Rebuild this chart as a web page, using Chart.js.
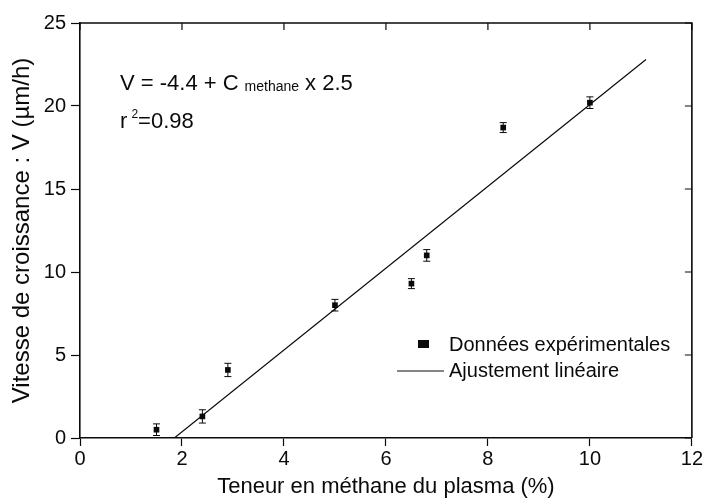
<!DOCTYPE html>
<html>
<head>
<meta charset="utf-8">
<script src="https://cdn.jsdelivr.net/npm/chart.js"></script>
<style>
  html, body { margin: 0; padding: 0; background: #fff; }
  #wrap { width: 704px; height: 501px; }
</style>
</head>
<body>
<div id="wrap"><canvas id="chart" width="704" height="501"></canvas></div>
<script>
  // données
  const methane   = [1.5, 2.4, 2.9, 5.0, 6.5, 6.8, 8.3, 10.0];
  const growth    = [0.5, 1.3, 4.1, 8.0, 9.3, 11.0, 18.7, 20.2];
  const growthErr = [0.35, 0.4, 0.4, 0.35, 0.3, 0.35, 0.3, 0.35];
  const fitX = [1.85, 11.1];
  const fitY = [0, 22.8];
  const xTicks = [0, 2, 4, 6, 8, 10, 12];
  const yTicks = [0, 5, 10, 15, 20, 25];

  const FONT = '"Liberation Sans", Arial, sans-serif';
  const INK = '#0a0a0a';

  // ─── barres d'erreur + cadre + ticks intérieurs ───────────────────────────
  const framePlugin = {
    id: 'frame',
    afterDatasetsDraw(chart) {
      const { ctx, chartArea: a, scales: { x, y } } = chart;
      ctx.save();
      ctx.strokeStyle = INK;
      // error bars
      ctx.lineWidth = 1;
      const meta = chart.getDatasetMeta(0);
      meta.data.forEach((pt, i) => {
        const yt = y.getPixelForValue(growth[i] + growthErr[i]);
        const yb = y.getPixelForValue(growth[i] - growthErr[i]);
        ctx.beginPath();
        ctx.moveTo(pt.x, yt); ctx.lineTo(pt.x, yb);
        ctx.moveTo(pt.x - 3.5, yt); ctx.lineTo(pt.x + 3.5, yt);
        ctx.moveTo(pt.x - 3.5, yb); ctx.lineTo(pt.x + 3.5, yb);
        ctx.stroke();
      });
      // frame top/right with inward ticks
      ctx.lineWidth = 1.6;
      ctx.beginPath();
      ctx.moveTo(a.left, a.top); ctx.lineTo(a.right, a.top); ctx.lineTo(a.right, a.bottom);
      ctx.stroke();
      ctx.lineWidth = 1.2;
      ctx.beginPath();
      xTicks.forEach(v => {
        const px = x.getPixelForValue(v);
        ctx.moveTo(px, a.top); ctx.lineTo(px, a.top + 7);
      });
      yTicks.forEach(v => {
        const py = y.getPixelForValue(v);
        ctx.moveTo(a.right, py); ctx.lineTo(a.right - 7, py);
      });
      ctx.stroke();
      ctx.restore();
    },
    afterDraw(chart) {
      const { ctx, chartArea: a } = chart;
      ctx.save();
      ctx.fillStyle = INK;
      ctx.strokeStyle = INK;
      ctx.textBaseline = 'alphabetic';
      ctx.textAlign = 'left';
      // équation
      let tx = a.left + 40;
      const by = 90;
      ctx.font = '22px ' + FONT;
      let s = 'V = -4.4 + C';
      ctx.fillText(s, tx, by); tx += ctx.measureText(s).width + 6;
      ctx.font = '14px ' + FONT;
      s = 'methane';
      ctx.fillText(s, tx, by + 1); tx += ctx.measureText(s).width + 6;
      ctx.font = '22px ' + FONT;
      ctx.fillText('x 2.5', tx, by);
      // r²
      tx = a.left + 40;
      const by2 = 128;
      s = 'r ';
      ctx.fillText(s, tx, by2); tx += ctx.measureText(s).width - 2;
      ctx.font = '12px ' + FONT;
      ctx.fillText('2', tx, by2 - 10); tx += ctx.measureText('2').width;
      ctx.font = '22px ' + FONT;
      ctx.fillText('=0.98', tx, by2);
      // légende
      const lx = 449;
      ctx.font = '20px ' + FONT;
      ctx.textBaseline = 'middle';
      ctx.fillRect(418, 340, 11, 8);
      ctx.fillText('Données expérimentales', lx, 345);
      ctx.lineWidth = 1;
      ctx.beginPath();
      ctx.moveTo(397, 371); ctx.lineTo(444, 371);
      ctx.stroke();
      ctx.fillText('Ajustement linéaire', lx, 371);
      ctx.restore();
    }
  };

  new Chart(document.getElementById('chart'), {
    type: 'scatter',
    data: {
      datasets: [
        {
          label: 'Données expérimentales',
          data: methane.map((m, i) => ({ x: m, y: growth[i] })),
          pointStyle: 'rect',
          pointRadius: 4,
          backgroundColor: INK,
          borderColor: INK,
          borderWidth: 0,
        },
        {
          label: 'Ajustement linéaire',
          type: 'line',
          data: fitX.map((v, i) => ({ x: v, y: fitY[i] })),
          borderColor: INK,
          borderWidth: 1.2,
          pointRadius: 0,
          fill: false,
        },
      ],
    },
    options: {
      responsive: false,
      animation: false,
      layout: { padding: { top: 23, right: 12, left: 0, bottom: 0 } },
      plugins: { legend: { display: false }, tooltip: { enabled: false } },
      scales: {
        x: {
          type: 'linear', min: 0, max: 12,
          afterBuildTicks: s => { s.ticks = xTicks.map(v => ({ value: v })); },
          afterFit: s => { s.height = 63; },
          grid: { drawOnChartArea: false, tickLength: 8, tickWidth: 1.2, color: INK },
          border: { display: true, color: INK, width: 1.6 },
          ticks: { color: INK, font: { family: FONT, size: 20 }, padding: 1, maxRotation: 0 },
          title: { display: true, text: 'Teneur en méthane du plasma (%)', color: INK,
                   font: { family: FONT, size: 22 }, padding: { top: 0, bottom: 1 } },
        },
        y: {
          type: 'linear', min: 0, max: 25,
          afterBuildTicks: s => { s.ticks = yTicks.map(v => ({ value: v })); },
          afterFit: s => { s.width = 80; },
          grid: { drawOnChartArea: false, tickLength: 9, tickWidth: 1.2, color: INK },
          border: { display: true, color: INK, width: 1.6 },
          ticks: { color: INK, font: { family: FONT, size: 20 }, padding: 5 },
          title: { display: true, text: 'Vitesse de croissance : V (µm/h)', color: INK,
                   font: { family: FONT, size: 24 }, padding: { top: 8, bottom: 0 } },
        },
      },
    },
    plugins: [framePlugin],
  });
</script>
</body>
</html>
